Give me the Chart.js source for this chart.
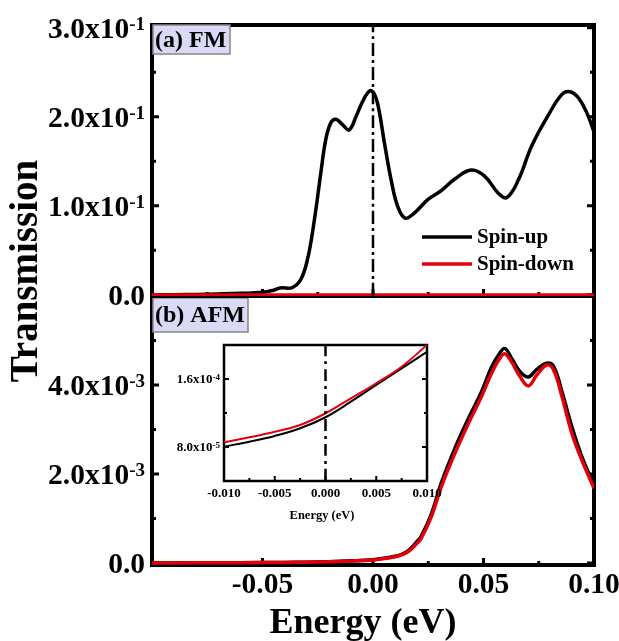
<!DOCTYPE html>
<html>
<head>
<meta charset="utf-8">
<script src="https://cdn.jsdelivr.net/npm/chart.js@4.4.0/dist/chart.umd.min.js"></script>
<style>
body { margin:0; background:#fff; }
#wrap { position:relative; width:619px; height:641px; }
canvas { position:absolute; left:0; top:0; }
</style>
</head>
<body>
<div id="wrap">
<canvas id="afm" width="619" height="641"></canvas>
<canvas id="fm" width="619" height="641"></canvas>
<canvas id="inset" width="619" height="641"></canvas>
</div>
<script>
// (a) FM panel
var fmEnergy = [-0.1, -0.09, -0.08, -0.07, -0.06, -0.05, -0.045, -0.042, -0.0365, -0.0327, -0.0297, -0.0267, -0.0236, -0.0214, -0.0191, -0.0168, -0.0138, -0.0108, -0.0077, -0.0047, -0.0015, 0.0005, 0.0025, 0.0052, 0.0082, 0.0112, 0.0145, 0.0188, 0.0249, 0.0309, 0.0370, 0.0445, 0.0506, 0.0567, 0.0605, 0.0658, 0.0718, 0.0794, 0.0855, 0.0892, 0.0930, 0.0968, 0.1];
var fmSpinUp = [0, 0, 0.0003, 0.0008, 0.0015, 0.0026, 0.005, 0.0075, 0.008, 0.017, 0.039, 0.081, 0.137, 0.174, 0.193, 0.197, 0.191, 0.185, 0.200, 0.217, 0.229, 0.226, 0.210, 0.170, 0.129, 0.099, 0.086, 0.092, 0.107, 0.117, 0.130, 0.140, 0.133, 0.114, 0.109, 0.129, 0.167, 0.202, 0.225, 0.228, 0.221, 0.204, 0.183];
var fmSpinDown = [0, 0, 0, 0, 0, 0, 0, 0, 0, 0, 0, 0, 0, 0, 0, 0, 0, 0, 0, 0, 0, 0, 0, 0, 0, 0, 0, 0, 0, 0, 0, 0, 0, 0, 0, 0, 0, 0, 0, 0, 0, 0, 0];

// (b) AFM panel
var afmEnergy = [-0.1, -0.08, -0.06, -0.04, -0.03, -0.02, -0.01, 0, 0.005, 0.01, 0.0127, 0.0155, 0.0175, 0.0197, 0.0218, 0.0264, 0.0309, 0.037, 0.043, 0.0491, 0.0536, 0.0574, 0.0597, 0.0627, 0.0665, 0.0703, 0.0741, 0.0786, 0.0817, 0.0855, 0.09, 0.0945, 0.1];
var afmSpinUp = [0, 0.003e-3, 0.006e-3, 0.012e-3, 0.019e-3, 0.03e-3, 0.048e-3, 0.075e-3, 0.105e-3, 0.15e-3, 0.19e-3, 0.26e-3, 0.35e-3, 0.47e-3, 0.6e-3, 1.10e-3, 1.80e-3, 2.57e-3, 3.23e-3, 3.85e-3, 4.40e-3, 4.72e-3, 4.82e-3, 4.60e-3, 4.30e-3, 4.18e-3, 4.35e-3, 4.49e-3, 4.42e-3, 3.85e-3, 3.06e-3, 2.39e-3, 1.75e-3];
var afmSpinDown = [0, 0.003e-3, 0.006e-3, 0.012e-3, 0.018e-3, 0.028e-3, 0.045e-3, 0.07e-3, 0.10e-3, 0.14e-3, 0.18e-3, 0.24e-3, 0.32e-3, 0.43e-3, 0.55e-3, 1.04e-3, 1.71e-3, 2.46e-3, 3.12e-3, 3.74e-3, 4.26e-3, 4.60e-3, 4.70e-3, 4.52e-3, 4.19e-3, 3.98e-3, 4.22e-3, 4.45e-3, 4.34e-3, 3.74e-3, 2.91e-3, 2.31e-3, 1.68e-3];

// inset (zoom around 0 eV)
var insetEnergy = [-0.01, -0.0075, -0.005, -0.0025, 0, 0.0025, 0.005, 0.0075, 0.01];
var insetSpinUp = [8.04e-5, 8.62e-5, 9.3e-5, 10.2e-5, 11.5e-5, 13.33e-5, 15.3e-5, 17.25e-5, 19.2e-5];
var insetSpinDown = [8.55e-5, 9.14e-5, 9.8e-5, 10.59e-5, 11.96e-5, 13.73e-5, 15.5e-5, 17.45e-5, 20.0e-5];

// Fermi level marker
var fermiX = [0, 0];
var fermiFm = [-0.0015, 0.303];
var fermiInset = [4e-5, 2e-4];

// ticks
var energyMajor = [-0.1, -0.05, 0, 0.05, 0.1];
var energyMinor = [-0.075, -0.025, 0.025, 0.075];
var energyLabelVals = [-0.05, 0, 0.05, 0.1];
var energyLabels = ['-0.05', '0.00', '0.05', '0.10'];
var fmYMajor = [0, 0.1, 0.2, 0.3];
var fmYMinor = [0.05, 0.15, 0.25];
var fmYLabels = [['0.0', ''], ['1.0x10', '-1'], ['2.0x10', '-1'], ['3.0x10', '-1']];
var afmYMajor = [0, 2e-3, 4e-3];
var afmYMinor = [1e-3, 3e-3, 5e-3];
var afmYLabels = [['0.0', ''], ['2.0x10', '-3'], ['4.0x10', '-3']];
var insetXMajor = [-0.01, -0.005, 0, 0.005, 0.01];
var insetXMinor = [-0.0075, -0.0025, 0.0025, 0.0075];
var insetXLabels = ['-0.010', '-0.005', '0.000', '0.005', '0.010'];
var insetYMajor = [8e-5, 1.6e-4];
var insetYMinor = [4e-5, 1.2e-4, 2e-4];
var insetYLabels = [['8.0x10', '-5'], ['1.6x10', '-4']];

var FONT = '"Liberation Serif", "Times New Roman", serif';
var RED = '#e3000b';

function pts(xs, ys) {
    return xs.map(function(x, i){ return {x: x, y: ys[i]}; });
}

function supText(ctx, xRight, yMid, base, sup, size, supSize) {
    ctx.font = 'bold ' + size + 'px ' + FONT;
    var wb = ctx.measureText(base).width;
    ctx.font = 'bold ' + supSize + 'px ' + FONT;
    var ws = sup ? ctx.measureText(sup).width : 0;
    var x0 = xRight - wb - ws;
    ctx.textAlign = 'left';
    ctx.textBaseline = 'alphabetic';
    ctx.font = 'bold ' + size + 'px ' + FONT;
    ctx.fillText(base, x0, yMid + size * 0.34);
    if (sup) {
        ctx.font = 'bold ' + supSize + 'px ' + FONT;
        ctx.fillText(sup, x0 + wb, yMid + size * 0.07);
    }
}

function framePlugin(cfg) {
    return {
        id: 'frame',
        beforeDatasetsDraw: function(chart) {
            var ctx = chart.ctx, a = chart.chartArea;
            var xs = chart.scales.x, ys = chart.scales.y;
            ctx.save();
            if (cfg.fill) {
                ctx.fillStyle = '#fff';
                ctx.fillRect(a.left, a.top, a.right - a.left, a.bottom - a.top);
            }
            ctx.strokeStyle = '#000';
            ctx.lineWidth = cfg.lw;
            ctx.strokeRect(a.left, a.top, a.right - a.left, a.bottom - a.top);
            ctx.lineWidth = cfg.tickW;
            ctx.beginPath();
            function xt(v, len) {
                var px = xs.getPixelForValue(v);
                ctx.moveTo(px, a.bottom); ctx.lineTo(px, a.bottom - len);
            }
            function yt(v, len) {
                var py = ys.getPixelForValue(v);
                ctx.moveTo(a.left, py); ctx.lineTo(a.left + len, py);
                ctx.moveTo(a.right, py); ctx.lineTo(a.right - len, py);
            }
            cfg.xMajor.forEach(function(v){ xt(v, cfg.majorLen); });
            cfg.xMinor.forEach(function(v){ xt(v, cfg.minorLen); });
            cfg.yMajor.forEach(function(v){ yt(v, cfg.majorLen); });
            cfg.yMinor.forEach(function(v){ yt(v, cfg.minorLen); });
            ctx.stroke();
            ctx.restore();
        },
        afterDraw: function(chart) {
            var ctx = chart.ctx, a = chart.chartArea;
            var xs = chart.scales.x, ys = chart.scales.y;
            ctx.save();
            ctx.fillStyle = '#000';
            // y tick labels
            cfg.yLabelVals.forEach(function(v, i){
                var lab = cfg.yLabels[i];
                supText(ctx, cfg.yLabelRight, ys.getPixelForValue(v), lab[0], lab[1], cfg.labelSize, cfg.supSize);
            });
            // x tick labels
            if (cfg.xLabels) {
                ctx.font = 'bold ' + cfg.labelSize + 'px ' + FONT;
                ctx.textAlign = 'center';
                ctx.textBaseline = 'alphabetic';
                cfg.xLabelVals.forEach(function(v, i){
                    ctx.fillText(cfg.xLabels[i], xs.getPixelForValue(v), cfg.xLabelY + cfg.labelSize * 0.34);
                });
            }
            if (cfg.xTitle) {
                ctx.font = 'bold ' + cfg.xTitle.size + 'px ' + FONT;
                ctx.textAlign = 'center';
                ctx.textBaseline = 'alphabetic';
                ctx.fillText(cfg.xTitle.text, cfg.xTitle.x, cfg.xTitle.y);
            }
            if (cfg.yTitle) {
                ctx.save();
                ctx.translate(cfg.yTitle.x, cfg.yTitle.y);
                ctx.rotate(-Math.PI / 2);
                ctx.font = 'bold ' + cfg.yTitle.size + 'px ' + FONT;
                ctx.textAlign = 'center';
                ctx.textBaseline = 'alphabetic';
                ctx.fillText(cfg.yTitle.text, 0, 0);
                ctx.restore();
            }
            if (cfg.panel) {
                var p = cfg.panel;
                ctx.fillStyle = '#dadaf7';
                ctx.fillRect(p.x, p.y, p.w, p.h);
                ctx.strokeStyle = '#858585';
                ctx.lineWidth = 1.5;
                ctx.strokeRect(p.x, p.y, p.w, p.h);
                ctx.fillStyle = '#000';
                ctx.font = 'bold 24px ' + FONT;
                ctx.textAlign = 'left';
                ctx.textBaseline = 'middle';
                ctx.fillText(p.text, p.x + 2, p.y + p.h / 2 + 1);
            }
            if (cfg.legend) {
                var L = cfg.legend;
                [0, 1].forEach(function(i){
                    var ds = chart.data.datasets[i];
                    var y = L.y + i * L.gap;
                    ctx.strokeStyle = ds.borderColor;
                    ctx.lineWidth = 3.5;
                    ctx.beginPath();
                    ctx.moveTo(L.x, y); ctx.lineTo(L.x + L.len, y);
                    ctx.stroke();
                    ctx.fillStyle = '#000';
                    ctx.font = 'bold 21px ' + FONT;
                    ctx.textAlign = 'left';
                    ctx.textBaseline = 'middle';
                    ctx.fillText(ds.label, L.x + L.len + 5, y + 1);
                });
            }
            ctx.restore();
        }
    };
}

function makeChart(id, datasets, xr, yr, padding, cfg) {
    return new Chart(document.getElementById(id), {
        type: 'line',
        data: { datasets: datasets },
        options: {
            responsive: false,
            animation: false,
            events: [],
            layout: { padding: padding },
            scales: {
                x: { type: 'linear', min: xr[0], max: xr[1], display: false },
                y: { type: 'linear', min: yr[0], max: yr[1], display: false }
            },
            plugins: { legend: { display: false }, tooltip: { enabled: false } },
            elements: { point: { radius: 0 }, line: { tension: 0.4 } }
        },
        plugins: [framePlugin(cfg)]
    });
}

makeChart('fm', [
    { label: 'Spin-up', data: pts(fmEnergy, fmSpinUp), borderColor: '#000', borderWidth: 3.5, order: 2 },
    { label: 'Spin-down', data: pts(fmEnergy, fmSpinDown), borderColor: RED, borderWidth: 3, order: 1 },
    { label: 'EF', data: pts(fermiX, fermiFm), borderColor: '#000', borderWidth: 2.5, borderDash: [13, 4, 3, 4], order: 0 }
], [-0.1, 0.1], [-0.0015, 0.303], { left: 152, top: 25, right: 25, bottom: 345 }, {
    lw: 4, tickW: 3, majorLen: 7, minorLen: 4,
    xMajor: energyMajor, xMinor: energyMinor, yMajor: fmYMajor, yMinor: fmYMinor,
    yLabelVals: fmYMajor, yLabels: fmYLabels, yLabelRight: 145, labelSize: 29.5, supSize: 19,
    panel: { text: '(a) FM', x: 153, y: 25, w: 77, h: 29 },
    legend: { x: 422, y: 237, gap: 27, len: 50 }
});

makeChart('afm', [
    { label: 'Spin-up', data: pts(afmEnergy, afmSpinUp), borderColor: '#000', borderWidth: 3.5, order: 2 },
    { label: 'Spin-down', data: pts(afmEnergy, afmSpinDown), borderColor: RED, borderWidth: 3.5, order: 1 }
], [-0.1, 0.1], [-0.045e-3, 6.0e-3], { left: 152, top: 296, right: 25, bottom: 76 }, {
    lw: 4, tickW: 3, majorLen: 7, minorLen: 4,
    xMajor: energyMajor, xMinor: energyMinor, yMajor: afmYMajor, yMinor: afmYMinor,
    yLabelVals: afmYMajor, yLabels: afmYLabels, yLabelRight: 145, labelSize: 29.5, supSize: 19,
    xLabelVals: energyLabelVals, xLabels: energyLabels, xLabelY: 583,
    xTitle: { text: 'Energy (eV)', x: 363, y: 633, size: 36 },
    yTitle: { text: 'Transmission', x: 37, y: 271, size: 39 },
    panel: { text: '(b) AFM', x: 153, y: 298, w: 95, h: 34 }
});

makeChart('inset', [
    { label: 'Spin-up', data: pts(insetEnergy, insetSpinUp), borderColor: '#000', borderWidth: 2, order: 2 },
    { label: 'Spin-down', data: pts(insetEnergy, insetSpinDown), borderColor: RED, borderWidth: 2, order: 1 },
    { label: 'EF', data: pts(fermiX, fermiInset), borderColor: '#000', borderWidth: 2.5, borderDash: [12, 5, 3, 5], order: 0 }
], [-0.01, 0.01], [4e-5, 2e-4], { left: 224, top: 345, right: 192, bottom: 160 }, {
    fill: true, lw: 2.5, tickW: 2, majorLen: 5, minorLen: 3,
    xMajor: insetXMajor, xMinor: insetXMinor, yMajor: insetYMajor, yMinor: insetYMinor,
    yLabelVals: insetYMajor, yLabels: insetYLabels, yLabelRight: 220, labelSize: 13, supSize: 9,
    xLabelVals: insetXMajor, xLabels: insetXLabels, xLabelY: 493,
    xTitle: { text: 'Energy (eV)', x: 322, y: 519, size: 12.5 }
});
</script>
</body>
</html>
